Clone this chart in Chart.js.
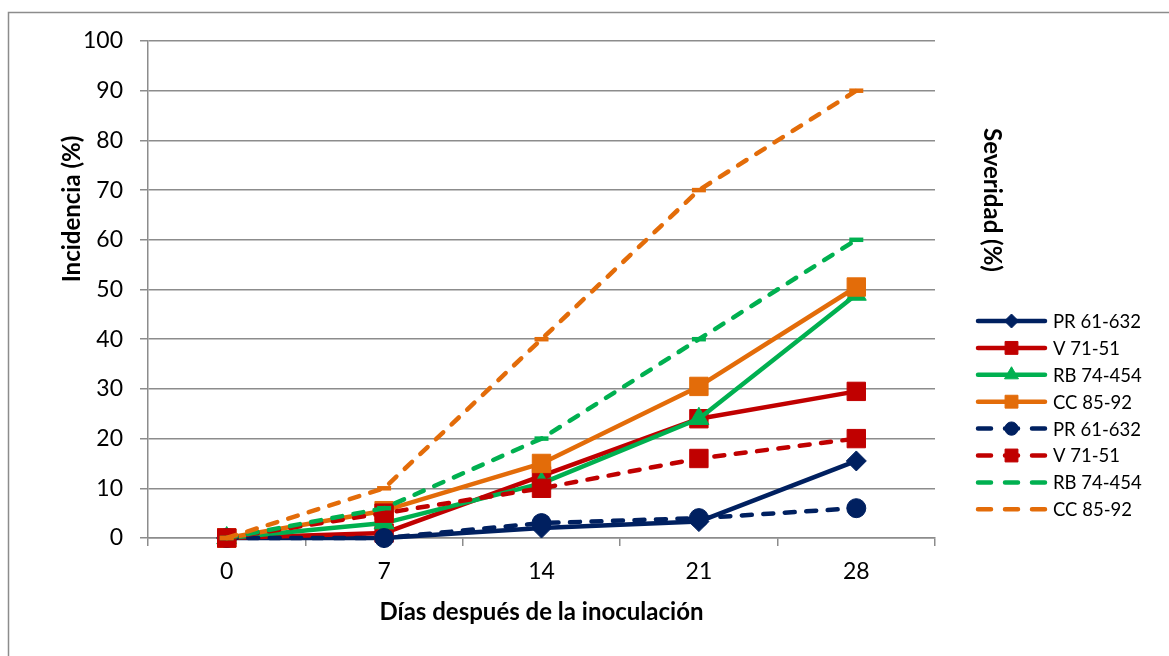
<!DOCTYPE html>
<html lang="es">
<head>
<meta charset="utf-8">
<title>Incidencia y severidad</title>
<script src="https://cdn.jsdelivr.net/npm/chart.js@4/dist/chart.umd.min.js"></script>
<style>
  html, body { margin: 0; padding: 0; background: #ffffff; }
  #wrap { width: 1169px; height: 656px; }
</style>
</head>
<body>
<div id="wrap"><canvas id="chart" width="1169" height="656"></canvas></div>
<script>
// Days after inoculation (category axis)
const days = ['0', '7', '14', '21', '28'];
const yTicks = [0, 10, 20, 30, 40, 50, 60, 70, 80, 90, 100];

// Solid lines
const prSolid = [0, 0, 2, 3.3, 15.5];
const vSolid  = [0, 1, 12.5, 24, 29.5];
const rbSolid = [0, 3, 11, 24, 49];
const ccSolid = [0, 5.5, 15, 30.5, 50.5];

// Dashed lines
const prDashed = [0, 0, 3, 4, 6];
const vDashed  = [0, 5, 10, 16, 20];
const rbDashed = [0, 6, 20, 40, 60];
const ccDashed = [0, 10, 40, 70, 90];

const varieties = ['PR 61-632', 'V 71-51', 'RB 74-454', 'CC 85-92'];

const NAVY = '#002060', RED = '#C00000', GREEN = '#00B050', ORANGE = '#E36C09';
const GRID = '#8c8c8c';
const FONT = 'Lato, "Open Sans", sans-serif';

function solid(label, data, color, style, radius) {
  return {
    label, data, borderColor: color, backgroundColor: color,
    borderWidth: 4.5, borderDash: [], borderCapStyle: 'round', borderJoinStyle: 'round',
    pointStyle: style, pointRadius: radius, pointHoverRadius: radius,
    pointBackgroundColor: color, pointBorderColor: color, pointBorderWidth: 1,
    tension: 0, clip: false, dashedLine: false
  };
}
function dashed(label, data, color, style, radius, pbw) {
  return {
    label, data, borderColor: color, backgroundColor: color,
    borderWidth: 4.5, borderDash: [10, 11.5], borderCapStyle: 'round', borderJoinStyle: 'round',
    pointStyle: style, pointRadius: radius, pointHoverRadius: radius,
    pointBackgroundColor: color, pointBorderColor: color, pointBorderWidth: pbw,
    tension: 0, clip: false, dashedLine: true
  };
}

const datasets = [
  solid(varieties[0], prSolid, NAVY, 'rectRot', 10),
  solid(varieties[1], vSolid, RED, 'rect', 13),
  solid(varieties[2], rbSolid, GREEN, 'triangle', 11.5),
  solid(varieties[3], ccSolid, ORANGE, 'rect', 13),
  dashed(varieties[0], prDashed, NAVY, 'circle', 9.5, 1),
  dashed(varieties[1], vDashed, RED, 'rect', 13, 1),
  dashed(varieties[2], rbDashed, GREEN, 'line', 7, 4.5),
  dashed(varieties[3], ccDashed, ORANGE, 'line', 7, 4.5)
];
// later series drawn on top
datasets.forEach((d, i) => { d.order = datasets.length - i; });

function marker(ctx, style, x, y, r, color) {
  ctx.save();
  ctx.fillStyle = color; ctx.strokeStyle = color; ctx.lineWidth = 1;
  ctx.beginPath();
  if (style === 'rect') {
    const s = r * Math.SQRT1_2;
    ctx.rect(x - s, y - s, 2 * s, 2 * s);
  } else if (style === 'rectRot') {
    ctx.moveTo(x, y - r); ctx.lineTo(x + r, y); ctx.lineTo(x, y + r); ctx.lineTo(x - r, y); ctx.closePath();
  } else if (style === 'triangle') {
    ctx.moveTo(x, y - r);
    ctx.lineTo(x + r * Math.sin(Math.PI * 2 / 3), y - r * Math.cos(Math.PI * 2 / 3));
    ctx.lineTo(x - r * Math.sin(Math.PI * 2 / 3), y - r * Math.cos(Math.PI * 2 / 3));
    ctx.closePath();
  } else if (style === 'circle') {
    ctx.arc(x, y, r, 0, Math.PI * 2);
  } else {
    ctx.restore(); return;
  }
  ctx.fill(); ctx.stroke();
  ctx.restore();
}

const chrome = {
  id: 'chrome',
  beforeDraw(chart) {
    const ctx = chart.ctx;
    ctx.save();
    ctx.fillStyle = '#ffffff';
    ctx.fillRect(0, 0, chart.width, chart.height);
    ctx.strokeStyle = '#8c8c8c';
    ctx.lineWidth = 1.5;
    ctx.strokeRect(8.5, 12.5, 1400, 900);
    ctx.restore();
  },
  afterDraw(chart) {
    const ctx = chart.ctx;
    const area = chart.chartArea;
    ctx.save();
    ctx.fillStyle = '#000000';
    ctx.font = 'bold 24px ' + FONT;
    ctx.textAlign = 'center';
    ctx.textBaseline = 'middle';
    // x axis title
    ctx.fillText('Días después de la inoculación', (area.left + area.right) / 2, 612);
    // left title
    ctx.save();
    ctx.translate(72, 209);
    ctx.rotate(-Math.PI / 2);
    ctx.fillText('Incidencia (%)', 0, 0);
    ctx.restore();
    // right title
    ctx.save();
    ctx.translate(992, 200);
    ctx.rotate(Math.PI / 2);
    ctx.fillText('Severidad (%)', 0, 0);
    ctx.restore();

    // legend
    const x0 = 976, x1 = 1047, xm = (x0 + x1) / 2;
    const top = 321, step = 26.9;
    ctx.font = '18.5px ' + FONT;
    ctx.textAlign = 'left';
    chart.data.datasets.forEach((ds, i) => {
      const y = top + i * step;
      ctx.save();
      ctx.strokeStyle = ds.borderColor;
      ctx.lineCap = 'round';
      if (ds.dashedLine) {
        ctx.lineWidth = 4.5;
        ctx.setLineDash([13, 14]);
        ctx.beginPath(); ctx.moveTo(x0 + 2, y); ctx.lineTo(x1, y); ctx.stroke();
      } else {
        ctx.lineWidth = 4.5;
        ctx.beginPath(); ctx.moveTo(x0 + 2, y); ctx.lineTo(x1 - 2, y); ctx.stroke();
      }
      ctx.restore();
      marker(ctx, ds.pointStyle, xm, y, ds.pointRadius * 0.7, ds.borderColor);
      ctx.fillStyle = '#000000';
      ctx.fillText(ds.label, 1053, y + 1);
    });
    ctx.restore();
  }
};

new Chart(document.getElementById('chart'), {
  type: 'line',
  data: { labels: days, datasets },
  options: {
    responsive: false,
    animation: false,
    devicePixelRatio: 1,
    layout: { padding: { left: 8, top: 41, right: 234, bottom: 0 } },
    plugins: { legend: { display: false }, tooltip: { enabled: false } },
    scales: {
      x: {
        type: 'category',
        offset: true,
        grid: { display: true, offset: true, drawOnChartArea: false, drawTicks: true, tickLength: 8, color: GRID, lineWidth: 1.5 },
        border: { display: true, color: GRID, width: 1.5 },
        ticks: { color: '#000000', font: { family: FONT, size: 23 }, padding: 12, maxRotation: 0 },
        afterFit(scale) { scale.height = 118; }
      },
      y: {
        min: 0, max: 100,
        afterBuildTicks(scale) { scale.ticks = yTicks.map(v => ({ value: v })); },
        grid: { color: GRID, lineWidth: 1.5, drawTicks: true, tickLength: 8 },
        border: { display: true, color: GRID, width: 1.5 },
        ticks: { color: '#000000', font: { family: FONT, size: 23 }, padding: 17 },
        afterFit(scale) { scale.width = 140; }
      }
    }
  },
  plugins: [chrome]
});
</script>
</body>
</html>
